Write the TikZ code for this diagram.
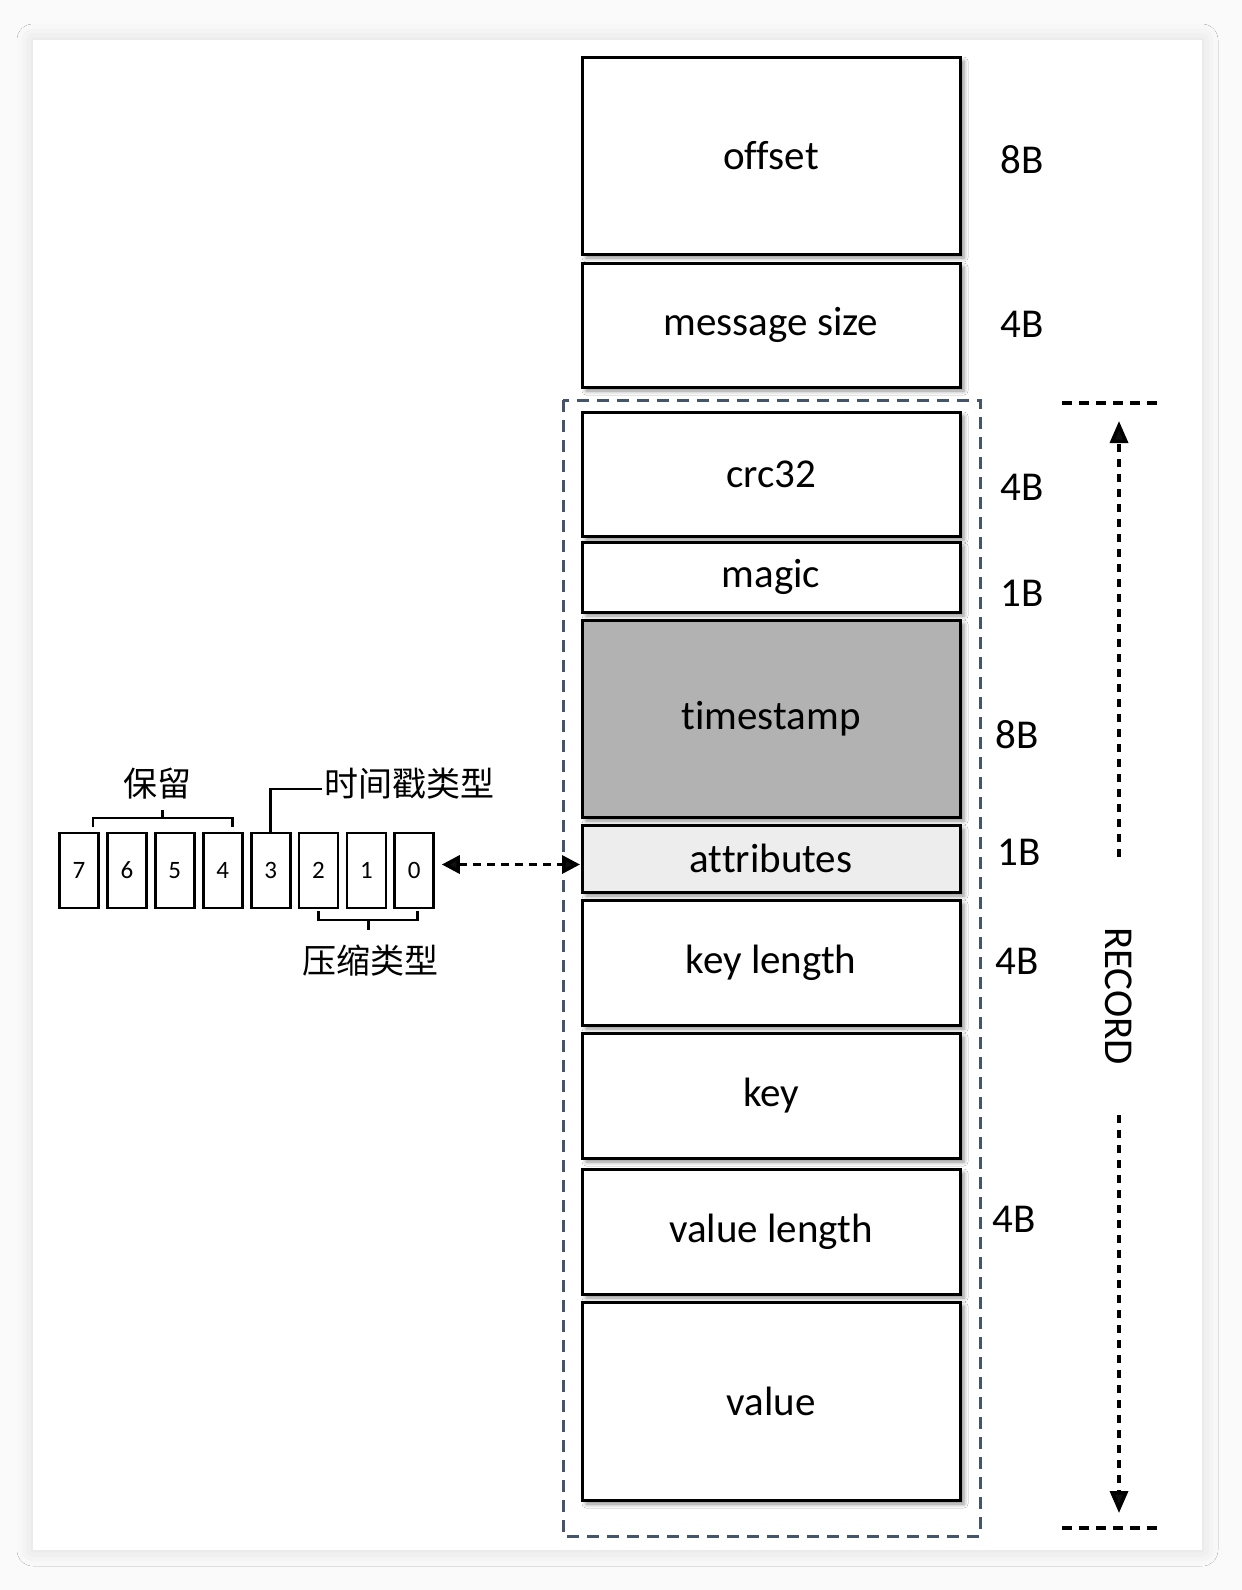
\documentclass[tikz,border=0pt]{standalone}
\usepackage{fontspec}
\setmainfont{Carlito}[Ligatures=NoCommon]
\newfontfamily\cjk{Noto Sans CJK SC}
\usetikzlibrary{arrows.meta,positioning,calc,shadows.blur}
\definecolor{recblue}{RGB}{68,84,106}
\definecolor{tsgray}{RGB}{178,178,178}
\definecolor{attgray}{RGB}{237,237,237}
\definecolor{pagebg}{RGB}{250,250,250}

\begin{document}
\begin{tikzpicture}[
    x=1pt, y=-1pt,
    field/.style={draw=black, line width=3pt, fill=white, minimum width=378pt, inner sep=0pt, outer sep=0pt,
                  font=\fontsize{41}{48}\selectfont,
                  blur shadow={shadow xshift=4pt, shadow yshift=-4pt, shadow blur radius=4pt, shadow opacity=45}},
    sz/.style={font=\fontsize{41}{48}\selectfont},
    bit/.style={draw=black, line width=2.8pt, minimum width=39pt, minimum height=75pt,
                inner sep=0pt, outer sep=0pt, font=\fontsize{25}{30}\selectfont},
    cn/.style={font=\cjk\fontsize{34}{40}\selectfont, inner sep=2pt},
    brk/.style={draw=black, line width=2.8pt},
    link/.style={{Triangle[length=18pt,width=18pt]}-{Triangle[length=18pt,width=18pt]},
                 line width=3.5pt, dash pattern=on 8pt off 6pt, shorten <=8pt, shorten >=2pt},
    span/.style={-{Triangle[length=22pt,width=18pt]}, line width=3.5pt, dash pattern=on 8pt off 7pt},
    edge/.style={line width=3.5pt, dash pattern=on 10pt off 7pt},
    recframe/.style={draw=recblue, line width=3pt, dash pattern=on 12pt off 8pt}
  ]
  \useasboundingbox (0,0) rectangle (1242,1590);
  \fill[pagebg] (0,0) rectangle (1242,1590);
  \fill[white, blur shadow={shadow xshift=0pt, shadow yshift=0pt, shadow blur radius=16pt, shadow opacity=12}]
    (33,40) rectangle (1202,1550);

  % message fields
  \node[field, minimum height=197pt] (offset) at (771,155.5) {offset};
  \node[field, minimum height=124pt, below=9pt of offset] (msgsize) {message size};
  \node[field, minimum height=124pt, below=25pt of msgsize] (crc) {crc32};
  \node[field, minimum height=70pt, below=6pt of crc] (magic) {magic};
  \node[field, minimum height=197pt, fill=tsgray, below=8pt of magic] (tstamp) {timestamp};
  \node[field, minimum height=67pt, fill=attgray, below=8pt of tstamp] (attr) {attributes};
  \node[field, minimum height=125pt, below=8pt of attr] (keylen) {key length};
  \node[field, minimum height=125pt, below=8pt of keylen] (key) {key};
  \node[field, minimum height=125pt, below=11pt of key] (vallen) {value length};
  \node[field, minimum height=198pt, below=8pt of vallen] (value) {value};

  % sizes
  \node[sz] (s-offset) at (1022,160) {8B};
  \node[sz] (s-msgsize) at (1022,324) {4B};
  \node[sz] (s-crc) at (1022,487) {4B};
  \node[sz] (s-magic) at (1022,593) {1B};
  \node[sz] (s-tstamp) at (1017,735) {8B};
  \node[sz] (s-attr) at (1019,852) {1B};
  \node[sz] (s-keylen) at (1017,961) {4B};
  \node[sz] (s-vallen) at (1014,1219) {4B};

  % record frame
  \draw[recframe] (563,400) rectangle (980,1536);
  \coordinate (rtopl) at (1062,403);
  \coordinate (rtopr) at (1159,403);
  \coordinate (rbotl) at (1062,1528);
  \coordinate (rbotr) at (1159,1528);
  \draw[edge] (rtopl) -- (rtopr);
  \draw[edge] (rbotl) -- (rbotr);
  \node[sz, rotate=-90] (rec) at (1119,996) {RECORD};
  \coordinate (up1) at (1119,857);
  \coordinate (up2) at (1119,421);
  \coordinate (dn1) at (1119,1115);
  \coordinate (dn2) at (1119,1513);
  \draw[span] (up1) -- (up2);
  \draw[span] (dn1) -- (dn2);

  % attribute bits
  \foreach \b [count=\i from 0] in {7,6,...,0}
    \node[bit] (b\b) at (79+47.9*\i,870.5) {\b};
  \draw[link] ([yshift=6pt]b0.east) -- ([yshift=6pt]b0.east -| attr.west);

  \node[cn] (keep) at (157,784) {保留};
  \draw[brk] ($(b7.north)+(14,-6)$) -- ++(0,-9) -| ($(b4.north)+(10,-6)$);
  \draw[brk] ($(b7.north)!0.5!(b4.north)+(12,-15)$) -- ++(0,-8);

  \node[cn, anchor=west] (tstype) at (322,784) {时间戳类型};
  \draw[brk] (b3.north) |- ([yshift=-5pt]tstype.west);

  \node[cn] (zip) at (370,961) {压缩类型};
  \draw[brk] ($(b2.south)+(0,3)$) -- ++(0,9) -| ($(b0.south)+(3,3)$);
  \draw[brk] ($(b2.south)!0.5!(b0.south)+(2,12)$) -- ++(0,10);
\end{tikzpicture}
\end{document}
